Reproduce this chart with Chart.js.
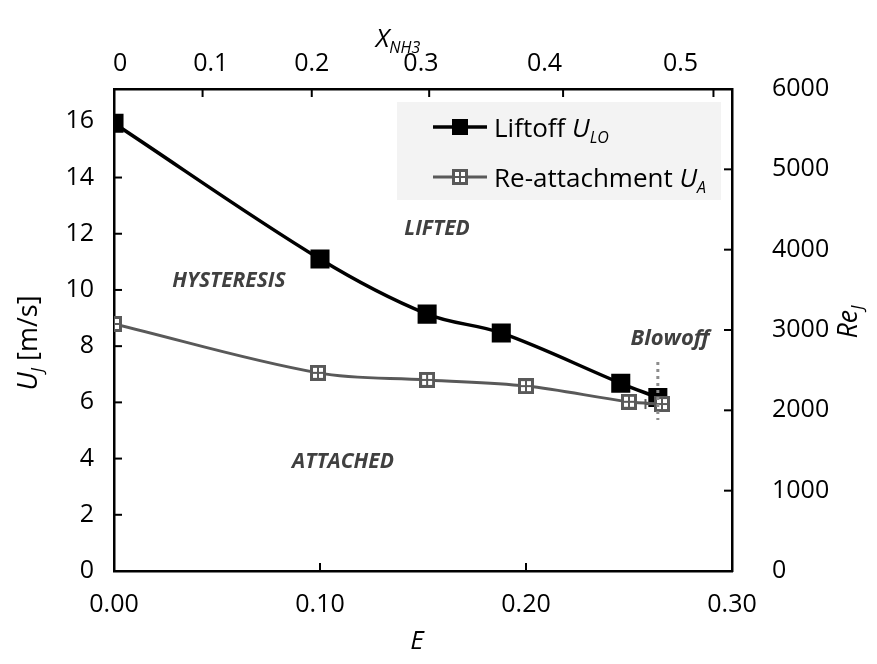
<!DOCTYPE html>
<html>
<head>
<meta charset="utf-8">
<script src="https://cdn.jsdelivr.net/npm/chart.js@4.4.0/dist/chart.umd.min.js"></script>
<style>
  html, body { margin: 0; padding: 0; background: #fff; }
  #wrap { width: 877px; height: 664px; }
</style>
</head>
<body>
<div id="wrap"><canvas id="jetChart" width="877" height="664"></canvas></div>
<script>
// Liftoff and re-attachment jet velocity vs NH3 energy fraction E
const liftoffE = [0, 0.100, 0.152, 0.188, 0.246, 0.264];
const liftoffU = [15.93, 11.10, 9.14, 8.47, 6.68, 6.17];
const reattachE = [0, 0.099, 0.152, 0.200, 0.250, 0.266];
const reattachU = [8.79, 7.05, 6.80, 6.58, 6.02, 5.94];

// dotted blowoff limit
const blowoffE = [0.264, 0.264];
const blowoffU = [7.44, 5.37];

// horizontal error bar on the last re-attachment point
const errE = [0.258, 0.269];
const errU = [5.94, 5.94];

// bottom axis (E), top axis (X_NH3 expressed in E), left U_J, right Re_J
const eTicks = [0, 0.1, 0.2, 0.3];
const xnh3Labels = ['0', '0.1', '0.2', '0.3', '0.4', '0.5'];
const xnh3LabelE = [0.003, 0.047, 0.096, 0.149, 0.209, 0.275];
const xnh3TickE = [0, 0.043, 0.096, 0.153, 0.218, 0.291];
const uTicks = [0, 2, 4, 6, 8, 10, 12, 14, 16];
const uMax = 17.15;
const reTicks = [0, 1000, 2000, 3000, 4000, 5000, 6000];
const reMax = 6000;

const FONT = "'Open Sans', 'Noto Sans', sans-serif";
const GREY = '#595959';

function toPoints(xs, ys) {
  return xs.map((x, i) => ({ x: x, y: ys[i] }));
}

// hollow grey square with a cross through it
function makeCrossSquare(size) {
  const c = document.createElement('canvas');
  c.width = size; c.height = size;
  const g = c.getContext('2d');
  g.fillStyle = GREY;
  g.fillRect(0, 0, size, size);
  const b = 3, bar = 2;
  const w = (size - 2 * b - bar) / 2;
  g.fillStyle = '#fff';
  g.fillRect(b, b, w, w);
  g.fillRect(b + w + bar, b, w, w);
  g.fillRect(b, b + w + bar, w, w);
  g.fillRect(b + w + bar, b + w + bar, w, w);
  return c;
}
const crossSquare = makeCrossSquare(16);

// text made of runs, e.g. U + subscript J
function runsWidth(ctx, runs) {
  let w = 0;
  runs.forEach(r => { ctx.font = r.font; w += ctx.measureText(r.t).width; });
  return w;
}
function drawRuns(ctx, runs, x, y, align) {
  let cx = align === 'center' ? x - runsWidth(ctx, runs) / 2 : x;
  ctx.textBaseline = 'alphabetic';
  ctx.textAlign = 'left';
  runs.forEach(r => {
    ctx.font = r.font;
    ctx.fillText(r.t, cx, y + (r.dy || 0));
    cx += ctx.measureText(r.t).width;
  });
}

const chartText = {
  id: 'chartText',
  afterDraw(chart) {
    const ctx = chart.ctx;
    const area = chart.chartArea;

    // inward tick marks on all four axes
    ctx.save();
    ctx.strokeStyle = '#000';
    ctx.lineWidth = 2;
    const tl = 8;
    const marks = {
      x: eTicks, xTop: xnh3TickE, y: uTicks, yRe: reTicks
    };
    Object.keys(marks).forEach(id => {
      const s = chart.scales[id];
      marks[id].forEach(v => {
        const p = s.getPixelForValue(v);
        ctx.beginPath();
        if (id === 'x') { ctx.moveTo(p, area.bottom); ctx.lineTo(p, area.bottom - tl); }
        if (id === 'xTop') { ctx.moveTo(p, area.top); ctx.lineTo(p, area.top + tl); }
        if (id === 'y') { ctx.moveTo(area.left, p); ctx.lineTo(area.left + tl, p); }
        if (id === 'yRe') { ctx.moveTo(area.right, p); ctx.lineTo(area.right - tl, p); }
        ctx.stroke();
      });
    });
    ctx.restore();

    ctx.save();
    // legend box
    ctx.fillStyle = '#f3f3f3';
    ctx.fillRect(397, 102, 324, 98);
    const items = [
      { y: 127, color: '#000', width: 3.5, label: 'Liftoff ', sub: 'LO', filled: true },
      { y: 177, color: GREY, width: 3, label: 'Re-attachment ', sub: 'A', filled: false }
    ];
    items.forEach(it => {
      ctx.strokeStyle = it.color;
      ctx.lineWidth = it.width;
      ctx.beginPath();
      ctx.moveTo(433, it.y);
      ctx.lineTo(487, it.y);
      ctx.stroke();
      if (it.filled) {
        ctx.fillStyle = '#000';
        ctx.fillRect(452, it.y - 8, 16, 16);
      } else {
        ctx.drawImage(crossSquare, 452, it.y - 8);
      }
      ctx.fillStyle = '#000';
      drawRuns(ctx, [
        { t: it.label, font: '26px ' + FONT },
        { t: 'U', font: 'italic 26px ' + FONT },
        { t: it.sub, font: 'italic 16px ' + FONT, dy: 6 }
      ], 494, it.y + 10, 'left');
    });

    // region labels
    ctx.fillStyle = '#404040';
    ctx.textAlign = 'center';
    ctx.textBaseline = 'middle';
    ctx.font = 'italic bold 21px ' + FONT;
    ctx.fillText('LIFTED', 437, 229);
    ctx.fillText('HYSTERESIS', 229, 281);
    ctx.fillText('ATTACHED', 343, 462);
    ctx.font = 'italic bold 22px ' + FONT;
    ctx.fillText('Blowoff', 670, 339);

    // axis titles
    ctx.fillStyle = '#000';
    drawRuns(ctx, [{ t: 'E', font: 'italic 26px ' + FONT }], 417, 649, 'center');
    drawRuns(ctx, [
      { t: 'X', font: 'italic 26px ' + FONT },
      { t: 'NH3', font: 'italic 16px ' + FONT, dy: 6 }
    ], 398, 47, 'center');

    ctx.save();
    ctx.translate(37, 343);
    ctx.rotate(-Math.PI / 2);
    drawRuns(ctx, [
      { t: 'U', font: 'italic 27px ' + FONT },
      { t: 'J', font: 'italic 16px ' + FONT, dy: 6 },
      { t: ' [m/s]', font: '27px ' + FONT }
    ], 0, 0, 'center');
    ctx.restore();

    ctx.save();
    ctx.translate(857, 322);
    ctx.rotate(-Math.PI / 2);
    drawRuns(ctx, [
      { t: 'Re', font: 'italic 27px ' + FONT },
      { t: 'J', font: 'italic 16px ' + FONT, dy: 6 }
    ], 0, 0, 'center');
    ctx.restore();
    ctx.restore();
  }
};

const tickFont = { family: FONT, size: 25 };
const axisBorder = { display: true, color: '#000', width: 2.5 };

const ctx = document.getElementById('jetChart').getContext('2d');
const jetChart = new Chart(ctx, {
  type: 'scatter',
  data: {
    datasets: [
      {
        label: 'Blowoff',
        data: toPoints(blowoffE, blowoffU),
        showLine: true,
        borderColor: '#8c8c8c',
        borderWidth: 3,
        borderDash: [3, 4],
        pointRadius: 0,
        order: -1
      },
      {
        label: 'Error',
        data: toPoints(errE, errU),
        showLine: true,
        borderColor: GREY,
        borderWidth: 2,
        pointStyle: 'line',
        rotation: 90,
        pointRadius: 5,
        pointBorderColor: GREY,
        pointBorderWidth: 2,
        order: 0.5
      },
      {
        label: 'Re-attachment',
        data: toPoints(reattachE, reattachU),
        showLine: true,
        borderColor: GREY,
        borderWidth: 3,
        tension: 0.35,
        pointStyle: crossSquare,
        order: 0
      },
      {
        label: 'Liftoff',
        data: toPoints(liftoffE, liftoffU),
        showLine: true,
        borderColor: '#000',
        borderWidth: 3.5,
        tension: 0.35,
        pointStyle: 'rect',
        pointRadius: 11,
        pointBackgroundColor: '#000',
        pointBorderColor: '#000',
        order: 1
      }
    ]
  },
  options: {
    responsive: false,
    animation: false,
    layout: { padding: 0 },
    plugins: {
      legend: { display: false },
      tooltip: { enabled: false }
    },
    scales: {
      x: {
        type: 'linear',
        position: 'bottom',
        min: 0,
        max: 0.3,
        afterBuildTicks: s => { s.ticks = eTicks.map(v => ({ value: v })); },
        afterFit: s => { s.height = 93; },
        ticks: { font: tickFont, color: '#000', padding: 19, maxRotation: 0,
                 callback: v => v.toFixed(2) },
        grid: { display: false, drawTicks: false },
        border: axisBorder
      },
      xTop: {
        type: 'linear',
        position: 'top',
        min: 0,
        max: 0.3,
        afterBuildTicks: s => { s.ticks = xnh3LabelE.map(v => ({ value: v })); },
        afterFit: s => { s.height = 89; },
        ticks: { font: tickFont, color: '#000', padding: 10, maxRotation: 0,
                 callback: (v, i) => xnh3Labels[i] },
        grid: { display: false, drawTicks: false },
        border: axisBorder
      },
      y: {
        type: 'linear',
        position: 'left',
        min: 0,
        max: uMax,
        afterBuildTicks: s => { s.ticks = uTicks.map(v => ({ value: v })); },
        afterFit: s => { s.width = 114; },
        ticks: { font: tickFont, color: '#000', padding: 20 },
        grid: { display: false, drawTicks: false },
        border: axisBorder
      },
      yRe: {
        type: 'linear',
        position: 'right',
        min: 0,
        max: reMax,
        afterBuildTicks: s => { s.ticks = reTicks.map(v => ({ value: v })); },
        afterFit: s => { s.width = 145; },
        ticks: { font: tickFont, color: '#000', padding: 40, callback: v => String(v) },
        grid: { display: false, drawTicks: false },
        border: axisBorder
      }
    }
  },
  plugins: [chartText]
});
</script>
</body>
</html>
